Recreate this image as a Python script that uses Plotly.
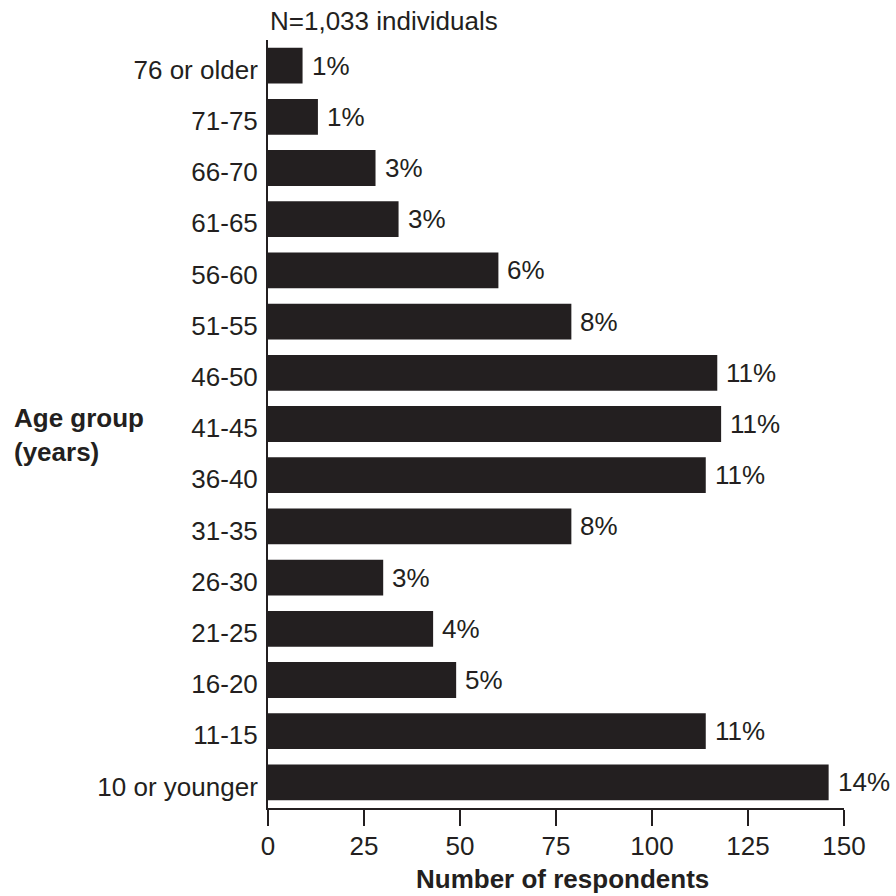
import plotly.graph_objects as go

# Age distribution of survey respondents (N = 1,033)
age_groups = [
    "76 or older", "71-75", "66-70", "61-65", "56-60", "51-55", "46-50",
    "41-45", "36-40", "31-35", "26-30", "21-25", "16-20", "11-15",
    "10 or younger",
]
respondents = [9, 13, 28, 34, 60, 79, 117, 118, 114, 79, 30, 43, 49, 114, 146]
share_pct = [1, 1, 3, 3, 6, 8, 11, 11, 11, 8, 3, 4, 5, 11, 14]
x_ticks = [0, 25, 50, 75, 100, 125, 150]

INK = "#231f20"
FONT = "Liberation Sans, Arial, Helvetica, sans-serif"
FS = 26

fig = go.Figure(
    go.Bar(
        x=respondents,
        y=age_groups,
        orientation="h",
        marker=dict(color=INK, line=dict(width=0)),
        hoverinfo="skip",
    )
)

# percentage labels just past the end of each bar
for grp, val, pct in zip(age_groups, respondents, share_pct):
    fig.add_annotation(
        x=val, y=grp, xref="x", yref="y",
        text=f"{pct}%", showarrow=False,
        xanchor="left", yanchor="middle", xshift=7,
        font=dict(family=FONT, size=FS, color=INK),
    )

# sample size above the plot
fig.add_annotation(
    x=0, y=1.0, xref="paper", yref="paper",
    text="N=1,033 individuals", showarrow=False,
    xanchor="left", yanchor="bottom", yshift=2,
    font=dict(family=FONT, size=FS, color=INK),
)

# horizontal y-axis title on the left
fig.add_annotation(
    x=-0.445, y=0.486, xref="paper", yref="paper",
    text="<b>Age group<br>(years)</b>", showarrow=False,
    xanchor="left", yanchor="middle", align="left",
    font=dict(family=FONT, size=FS, color=INK),
)

# x-axis title
fig.add_annotation(
    x=0.512, y=0, xref="paper", yref="paper",
    text="<b>Number of respondents</b>", showarrow=False,
    xanchor="center", yanchor="top", yshift=-54,
    font=dict(family=FONT, size=FS, color=INK),
)

fig.update_layout(
    width=896, height=896,
    margin=dict(l=268, r=52, t=40, b=88, pad=0),
    paper_bgcolor="white", plot_bgcolor="white",
    bargap=0.3,
    showlegend=False,
    font=dict(family=FONT, size=FS, color=INK),
    xaxis=dict(
        range=[0, 150],
        tickvals=x_ticks,
        ticks="outside", ticklen=16, tickwidth=2, tickcolor=INK,
        showline=True, linewidth=2, linecolor=INK,
        showgrid=False, zeroline=False,
        ticklabelstandoff=-2,
        tickfont=dict(family=FONT, size=FS, color=INK),
    ),
    yaxis=dict(
        range=[14.5, -0.5],
        categoryorder="array", categoryarray=age_groups,
        showline=True, linewidth=2, linecolor=INK,
        ticks="", showgrid=False, zeroline=False,
        ticklabelstandoff=3,
        ticklabelshift=-4,
        tickfont=dict(family=FONT, size=FS, color=INK),
    ),
)

fig.write_html("out.html")
